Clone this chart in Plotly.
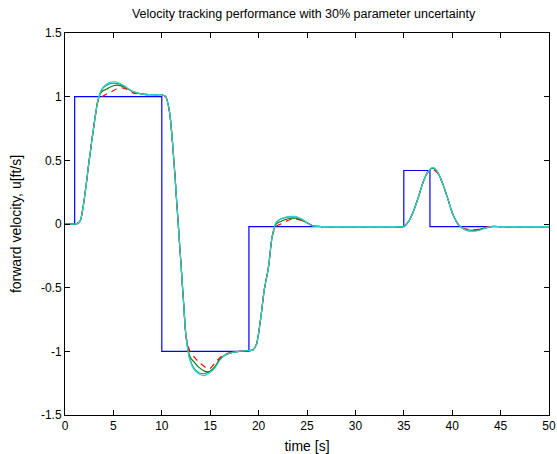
import plotly.graph_objects as go

# Reference (desired) velocity steps
ref_t = [0, 1.0, 10.0, 19.0, 35.0, 37.7, 50]
ref_u = [0, 1.0, -1.0, -0.02, 0.42, -0.02, -0.02]

# Common time samples for the responses
t = [0, 1.0, 1.3, 1.6, 2.0, 2.5, 3.0, 3.4, 3.8, 4.3, 4.8, 5.3, 5.8, 6.3, 7.0, 8.0, 9.0, 10.0,
     10.4, 10.8, 11.15, 11.5, 11.85, 12.2, 12.5, 12.9, 13.4, 13.9, 14.4, 14.9, 15.5, 16.0, 16.5,
     17.2, 18.0, 19.0, 19.4, 19.8, 20.2, 20.6, 21.0, 21.4, 21.8, 22.3, 22.8, 23.3, 23.8, 24.4,
     25.0, 25.6, 26.5, 28, 30, 32, 34, 35.0, 35.5, 36.0, 36.5, 37.0, 37.5, 38.0, 38.5, 39.0,
     39.5, 40.0, 40.5, 41.0, 41.5, 42.0, 42.5, 43.0, 43.5, 44.0, 45, 47, 50]

u_cyan = [0, 0, 0.005, 0.03, 0.2, 0.5, 0.78, 0.97, 1.06, 1.10, 1.115, 1.115, 1.10, 1.075, 1.04, 1.02, 1.015, 1.015,
          1.0, 0.88, 0.6, 0.22, -0.17, -0.56, -0.88, -1.07, -1.15, -1.18, -1.19, -1.17, -1.13, -1.07, -1.03,
          -1.01, -1.0, -0.995, -0.99, -0.94, -0.75, -0.51, -0.35, -0.1, 0.01, 0.04, 0.055, 0.06, 0.06, 0.04,
          0.01, -0.015, -0.02, -0.02, -0.02, -0.02, -0.02, -0.02, 0.02, 0.1, 0.21, 0.33, 0.41, 0.445, 0.41, 0.32,
          0.21, 0.09, 0.01, -0.03, -0.05, -0.055, -0.055, -0.045, -0.03, -0.02, -0.02, -0.02, -0.02]

u_teal = [0, 0, 0.005, 0.03, 0.2, 0.5, 0.78, 0.97, 1.055, 1.09, 1.105, 1.105, 1.095, 1.07, 1.04, 1.02, 1.015, 1.015,
          1.0, 0.88, 0.6, 0.22, -0.17, -0.56, -0.88, -1.06, -1.14, -1.17, -1.175, -1.16, -1.12, -1.065, -1.03,
          -1.01, -1.0, -0.995, -0.99, -0.94, -0.75, -0.51, -0.35, -0.1, 0.01, 0.04, 0.05, 0.055, 0.055, 0.04,
          0.01, -0.015, -0.02, -0.02, -0.02, -0.02, -0.02, -0.02, 0.02, 0.1, 0.21, 0.33, 0.41, 0.44, 0.405, 0.32,
          0.21, 0.09, 0.01, -0.03, -0.05, -0.055, -0.05, -0.04, -0.03, -0.02, -0.02, -0.02, -0.02]

u_green = [0, 0, 0.005, 0.03, 0.2, 0.5, 0.78, 0.97, 1.04, 1.06, 1.08, 1.09, 1.085, 1.07, 1.04, 1.02, 1.015, 1.015,
           1.0, 0.88, 0.6, 0.22, -0.17, -0.56, -0.88, -1.04, -1.09, -1.13, -1.155, -1.16, -1.12, -1.06, -1.03,
           -1.01, -1.0, -0.995, -0.99, -0.94, -0.75, -0.51, -0.35, -0.1, 0.0, 0.02, 0.035, 0.045, 0.045, 0.03,
           0.01, -0.015, -0.02, -0.02, -0.02, -0.02, -0.02, -0.02, 0.02, 0.1, 0.21, 0.33, 0.41, 0.44, 0.405, 0.32,
           0.21, 0.09, 0.01, -0.03, -0.045, -0.05, -0.05, -0.04, -0.03, -0.02, -0.02, -0.02, -0.02]

u_red = [0, 0, 0.005, 0.03, 0.2, 0.5, 0.78, 0.96, 1.0, 1.02, 1.04, 1.06, 1.07, 1.06, 1.03, 1.02, 1.015, 1.015,
         1.0, 0.88, 0.6, 0.22, -0.17, -0.56, -0.88, -1.0, -1.05, -1.09, -1.12, -1.14, -1.09, -1.05, -1.02,
         -1.01, -1.0, -0.995, -0.99, -0.94, -0.75, -0.51, -0.35, -0.1, -0.02, 0.0, 0.02, 0.035, 0.04, 0.03,
         0.01, -0.015, -0.02, -0.02, -0.02, -0.02, -0.02, -0.02, 0.02, 0.1, 0.21, 0.33, 0.41, 0.43, 0.4, 0.32,
         0.21, 0.09, 0.01, -0.03, -0.04, -0.045, -0.045, -0.035, -0.025, -0.02, -0.02, -0.02, -0.02]

x_ticks = [0, 5, 10, 15, 20, 25, 30, 35, 40, 45, 50]
y_ticks = [-1.5, -1, -0.5, 0, 0.5, 1, 1.5]
y_labels = ["-1.5", "-1", "-0.5", "0", "0.5", "1", "1.5"]

fig = go.Figure()
fig.add_trace(go.Scatter(x=ref_t, y=ref_u, mode="lines", line=dict(color="#0000ff", width=1.2, shape="hv")))
fig.add_trace(go.Scatter(x=t, y=u_teal, mode="lines", line=dict(color="#10a89a", width=1.2, shape="spline", smoothing=0.6)))
fig.add_trace(go.Scatter(x=t, y=u_green, mode="lines", line=dict(color="#008000", width=1.2, shape="spline", smoothing=0.6)))
fig.add_trace(go.Scatter(x=t, y=u_red, mode="lines", line=dict(color="#ff0000", width=1.2, dash="6px,5px", shape="spline", smoothing=0.6)))
fig.add_trace(go.Scatter(x=t, y=u_cyan, mode="lines", line=dict(color="#30d0d0", width=1.2, shape="spline", smoothing=0.6)))

axis_common = dict(showline=True, linecolor="black", linewidth=1, mirror="allticks", ticks="inside",
                   ticklen=5, tickcolor="black", showgrid=False, zeroline=False, automargin=False,
                   tickfont=dict(family="Liberation Sans, Arial", size=12, color="black"))

fig.update_layout(
    width=557, height=454,
    margin=dict(l=65, r=8, t=33, b=39),
    paper_bgcolor="white", plot_bgcolor="white",
    showlegend=False,
    font=dict(family="Liberation Sans, Arial", size=12, color="black"),
    title=dict(text="Velocity tracking performance with 30% parameter uncertainty",
               x=0.545, xanchor="center", y=0.97, yanchor="middle",
               font=dict(size=12.5, color="black")),
    xaxis=dict(range=[0, 50], tickvals=x_ticks, title=dict(text="time [s]", standoff=8), **axis_common),
    yaxis=dict(range=[-1.5, 1.5], tickvals=y_ticks, ticktext=y_labels,
               title=dict(text="forward velocity, u[ft/s]", standoff=16), **axis_common),
)

fig.write_html("out.html", config={"displayModeBar": False},
               post_script="document.body.style.margin='0';document.body.style.overflow='hidden';")
